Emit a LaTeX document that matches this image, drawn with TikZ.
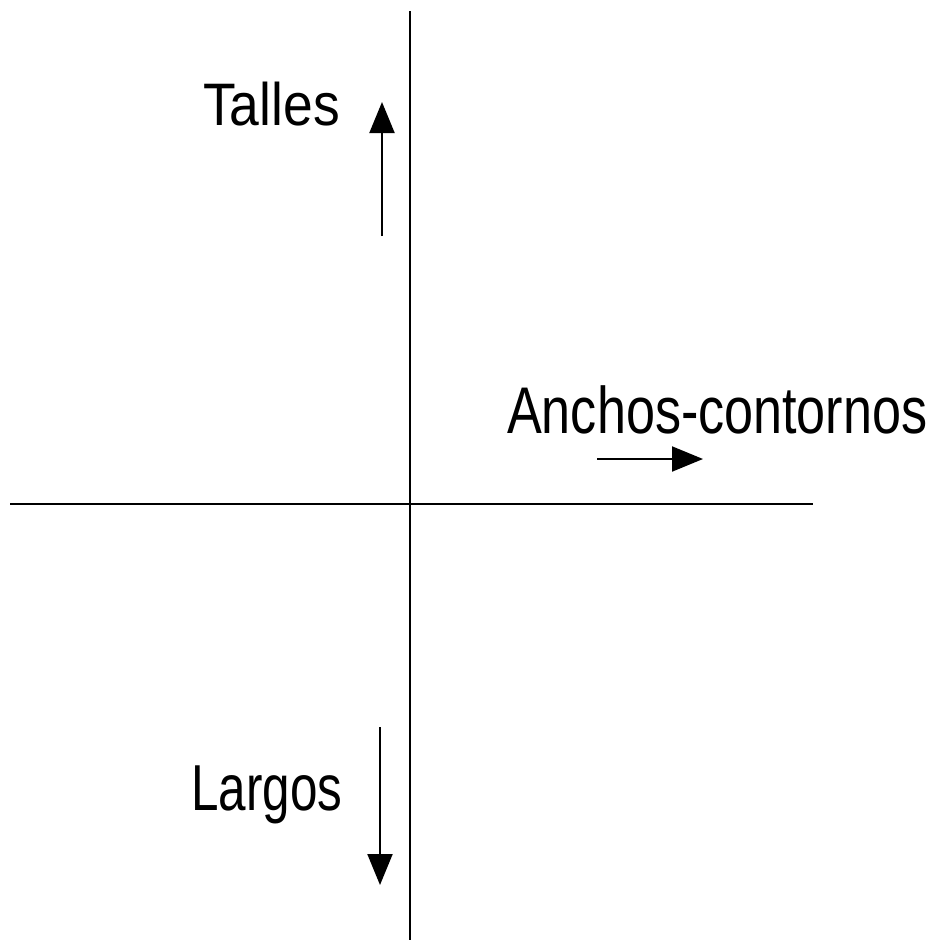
\documentclass[tikz,border=0pt]{standalone}
\usepackage{fontspec}
\setmainfont{Liberation Sans}
\usetikzlibrary{arrows.meta}
\begin{document}
\begin{tikzpicture}[x=1pt,y=-1pt,
  axis/.style={line width=2pt,black},
  dirarrow/.style={line width=2pt,-{Triangle[width=25pt,length=31pt]}},
  lbl/.style={inner sep=0pt,anchor=base west}]
\useasboundingbox[fill=white] (0,0) rectangle (946,943);
% axes
\coordinate (vt) at (410,11);
\coordinate (vb) at (410,940);
\coordinate (hl) at (10,504);
\coordinate (hr) at (813,504);
\draw[axis] (vt) -- (vb);
\draw[axis] (hl) -- (hr);
% labels
\node[lbl,font=\fontsize{60}{60}\selectfont] (talles) at (203,125) {\scalebox{0.89}[1]{Talles}};
\node[lbl,font=\fontsize{66}{66}\selectfont] (anchos) at (507,433) {\scalebox{0.79}[1]{Anchos-contornos}};
\node[lbl,font=\fontsize{65}{65}\selectfont] (largos) at (191,810) {\scalebox{0.76}[1]{Largos}};
% direction arrows
\coordinate (ta) at (382,236);
\coordinate (tb) at (382,102);
\coordinate (aa) at (597,459);
\coordinate (ab) at (703,459);
\coordinate (la) at (380,727);
\coordinate (lb) at (380,885);
\draw[dirarrow] (ta) -- (tb);
\draw[dirarrow] (aa) -- (ab);
\draw[dirarrow] (la) -- (lb);
\end{tikzpicture}
\end{document}
